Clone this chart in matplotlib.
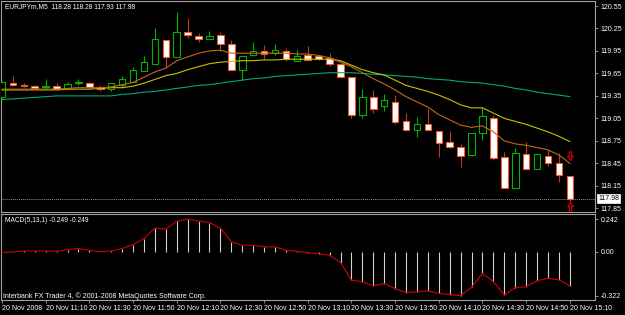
import numpy as np
import matplotlib
matplotlib.use("Agg")
import matplotlib.pyplot as plt

plt.rcParams["font.family"] = ["Liberation Sans", "DejaVu Sans"]
plt.rcParams["font.size"] = 5

W, H = 625, 315

# EURJPYm M5 bars, 20 Nov 2008 10:50 .. 15:10
opens = [119.34, 119.52, 119.50, 119.48, 119.47, 119.48, 119.46, 119.52, 119.52, 119.47,
         119.44, 119.50, 119.54, 119.68, 119.78, 120.09, 119.87, 120.20, 120.15, 120.11,
         120.16, 120.04, 119.69, 119.89, 119.95, 119.92, 119.95, 119.82, 119.89, 119.88,
         119.85, 119.78, 119.60, 119.09, 119.33, 119.21, 119.27, 119.01, 118.90, 118.98,
         118.88, 118.74, 118.67, 118.56, 118.86, 119.06, 118.53, 118.12, 118.57, 118.37,
         118.55, 118.45, 118.28]
highs = [119.55, 119.62, 119.52, 119.49, 119.58, 119.52, 119.54, 119.58, 119.54, 119.49,
         119.52, 119.61, 119.74, 119.88, 120.25, 120.09, 120.47, 120.39, 120.19, 120.21,
         120.20, 120.09, 119.88, 120.07, 120.03, 120.04, 119.99, 119.96, 120.01, 119.90,
         119.92, 119.78, 119.60, 119.44, 119.43, 119.38, 119.36, 119.12, 119.07, 119.18,
         118.88, 118.88, 118.71, 118.86, 119.20, 119.10, 118.60, 118.65, 118.74, 118.58,
         118.63, 118.59, 118.28]
lows = [119.32, 119.48, 119.47, 119.45, 119.44, 119.43, 119.45, 119.49, 119.46, 119.42,
        119.42, 119.46, 119.54, 119.68, 119.78, 119.72, 119.87, 120.12, 120.07, 120.11,
        119.95, 119.70, 119.56, 119.89, 119.84, 119.90, 119.81, 119.81, 119.83, 119.83,
        119.75, 119.59, 119.06, 119.06, 119.12, 119.15, 118.97, 118.88, 118.80, 118.89,
        118.53, 118.66, 118.40, 118.55, 118.76, 118.49, 118.12, 118.12, 118.36, 118.37,
        118.42, 118.20, 117.93]
closes = [119.53, 119.49, 119.48, 119.46, 119.48, 119.44, 119.51, 119.53, 119.47, 119.44,
          119.52, 119.57, 119.70, 119.80, 120.11, 119.87, 120.20, 120.16, 120.11, 120.15,
          120.04, 119.70, 119.88, 119.95, 119.91, 119.96, 119.84, 119.88, 119.83, 119.84,
          119.78, 119.60, 119.09, 119.33, 119.18, 119.30, 119.00, 118.89, 118.98, 118.90,
          118.72, 118.67, 118.55, 118.86, 119.08, 118.52, 118.12, 118.59, 118.37, 118.58,
          118.46, 118.29, 117.98]

ma_fast = [119.44, 119.44, 119.44, 119.44, 119.44, 119.44, 119.45, 119.46, 119.46, 119.46,
           119.47, 119.50, 119.53, 119.60, 119.67, 119.72, 119.82, 119.87, 119.92, 119.95,
           119.96, 119.92, 119.92, 119.92, 119.92, 119.92, 119.92, 119.91, 119.91, 119.89,
           119.86, 119.80, 119.74, 119.66, 119.58, 119.51, 119.43, 119.34, 119.27, 119.20,
           119.10, 119.03, 118.96, 118.93, 118.95, 118.87, 118.75, 118.71, 118.69, 118.66,
           118.63, 118.56, 118.45]
ma_mid = [119.43, 119.43, 119.43, 119.43, 119.43, 119.43, 119.44, 119.44, 119.44, 119.45,
          119.46, 119.46, 119.48, 119.52, 119.57, 119.62, 119.65, 119.70, 119.74, 119.78,
          119.80, 119.81, 119.82, 119.82, 119.83, 119.83, 119.84, 119.84, 119.84, 119.84,
          119.84, 119.82, 119.76, 119.70, 119.66, 119.63, 119.56, 119.49, 119.45, 119.41,
          119.36, 119.30, 119.23, 119.19, 119.19, 119.12, 119.05, 119.01, 118.97, 118.92,
          118.87, 118.81, 118.74]
ma_slow = [119.30, 119.31, 119.32, 119.33, 119.34, 119.35, 119.35, 119.35, 119.35, 119.35,
           119.35, 119.37, 119.38, 119.40, 119.41, 119.43, 119.45, 119.47, 119.49, 119.50,
           119.52, 119.54, 119.56, 119.58, 119.59, 119.61, 119.62, 119.63, 119.64, 119.65,
           119.66, 119.66, 119.66, 119.65, 119.64, 119.63, 119.62, 119.61, 119.60, 119.58,
           119.57, 119.56, 119.54, 119.53, 119.52, 119.50, 119.48, 119.45, 119.43, 119.40,
           119.38, 119.36, 119.34]

macd = [-0.004, 0.000, 0.007, 0.007, 0.007, 0.005, 0.017, 0.025, 0.012, 0.000,
        0.007, 0.025, 0.054, 0.098, 0.176, 0.167, 0.226, 0.242, 0.228, 0.216,
        0.176, 0.074, 0.049, 0.049, 0.037, 0.037, 0.012, 0.005, -0.007, -0.012,
        -0.025, -0.078, -0.208, -0.220, -0.250, -0.233, -0.270, -0.299, -0.294, -0.287,
        -0.306, -0.314, -0.322, -0.261, -0.158, -0.219, -0.317, -0.263, -0.256, -0.212,
        -0.194, -0.206, -0.249]

price_ticks = [120.55, 120.25, 119.95, 119.65, 119.35, 119.05, 118.75, 118.45, 118.15, 117.85]
macd_ticks = [0.242, 0.0, -0.322]
macd_tick_labels = ["0.242", "0.00", "-0.322"]
time_labels = ["20 Nov 2008", "20 Nov 11:10", "20 Nov 11:30", "20 Nov 11:50", "20 Nov 12:10",
               "20 Nov 12:30", "20 Nov 12:50", "20 Nov 13:10", "20 Nov 13:30", "20 Nov 13:50",
               "20 Nov 14:10", "20 Nov 14:30", "20 Nov 14:50", "20 Nov 15:10"]
bid = 117.98

BULL = "#00b400"
BEAR = "#f0582a"
BEAR_WICK = "#c03c18"
FRAME = "#a0a0a0"


def px_axes(left, top, right, bottom):
    return [left / W, 1 - bottom / H, (right - left) / W, (bottom - top) / H]


fig = plt.figure(figsize=(W / 100, H / 100), dpi=100, facecolor="black")
ax = fig.add_axes(px_axes(1, 1, 595, 212), facecolor="black")
axm = fig.add_axes(px_axes(1, 214, 595, 300), facecolor="black", sharex=ax)

x = np.arange(len(opens))
o, h, l, c = (np.array(v) for v in (opens, highs, lows, closes))
up = c >= o

# candles
ax.vlines(x, l, h, colors=np.where(up, BULL, BEAR_WICK), lw=0.8, zorder=2)
ax.bar(x, np.maximum(np.abs(c - o), 0.006), bottom=np.minimum(o, c), width=0.6,
       color=np.where(up, "black", "white"), edgecolor=np.where(up, BULL, BEAR),
       linewidth=0.8, zorder=3)

# moving averages
ax.plot(x, ma_slow, color="#00a878", lw=0.8, zorder=4)
ax.plot(x, ma_mid, color="#c8c000", lw=0.8, zorder=4)
ax.plot(x, ma_fast, color="#c8641e", lw=0.8, zorder=4)

# bid line and arrows
ax.axhline(bid, color="#909090", lw=0.7, ls=(0, (1, 1)), zorder=1)
down_arrow = [(-0.5, 0.2), (-0.22, 0.2), (-0.22, 1), (0.22, 1), (0.22, 0.2), (0.5, 0.2), (0, -0.5), (-0.5, 0.2)]
up_arrow = [(px, -py) for px, py in down_arrow]
ax.plot([52], [118.53], marker=down_arrow, ms=8, mfc="black", mec="#e00000", mew=0.8, zorder=5)
ax.plot([52], [117.89], marker=up_arrow, ms=8, mfc="black", mec="#e00000", mew=0.8, zorder=5)

bar_px = 10.92
ax.set_xlim(-1 / bar_px, -1 / bar_px + 594 / bar_px)
ax.set_ylim(117.80, 120.617)

# MACD pane
axm.vlines(x, 0, macd, colors="#d0d0d0", lw=0.8, zorder=2)
axm.plot(x, macd, color="#d00000", lw=0.8, zorder=3)
axm.set_ylim(-0.354, 0.279)

for a in (ax, axm):
    for s in a.spines.values():
        s.set_color(FRAME)
        s.set_linewidth(0.8)
    a.yaxis.tick_right()
    a.tick_params(axis="y", colors=FRAME, labelcolor="white", length=2.5, width=0.6, pad=1.5)

ax.set_yticks(price_ticks)
ax.set_yticklabels([f"{p:.2f}" for p in price_ticks])
axm.set_yticks(macd_ticks)
axm.set_yticklabels(macd_tick_labels)

ax.tick_params(axis="x", bottom=False, labelbottom=False)
axm.set_xticks(x[::4])
axm.set_xticklabels(time_labels, ha="left")
axm.tick_params(axis="x", colors=FRAME, labelcolor="white", length=2.5, width=0.6, pad=1)

# current bid label box
ax.text(1.0 + 3 / 594, bid, f"{bid:.2f}", transform=ax.get_yaxis_transform(),
        ha="left", va="center", color="black", fontsize=5, zorder=6, clip_on=False,
        bbox=dict(boxstyle="square,pad=0.15", fc="white", ec="white", lw=0.5))

fig.text(5 / W, 1 - 7 / H, "EURJPYm,M5  118.28 118.28 117.93 117.98", color="white",
         ha="left", va="center", fontsize=4.8)
fig.text(5 / W, 1 - 220.5 / H, "MACD(5,13,1) -0.249 -0.249", color="white",
         ha="left", va="center", fontsize=4.8)
fig.text(3 / W, 1 - 296.5 / H, "Interbank FX Trader 4, \u00a9 2001-2008 MetaQuotes Software Corp.",
         color="white", ha="left", va="center")

fig.savefig("out.png", dpi=100, facecolor="black")
